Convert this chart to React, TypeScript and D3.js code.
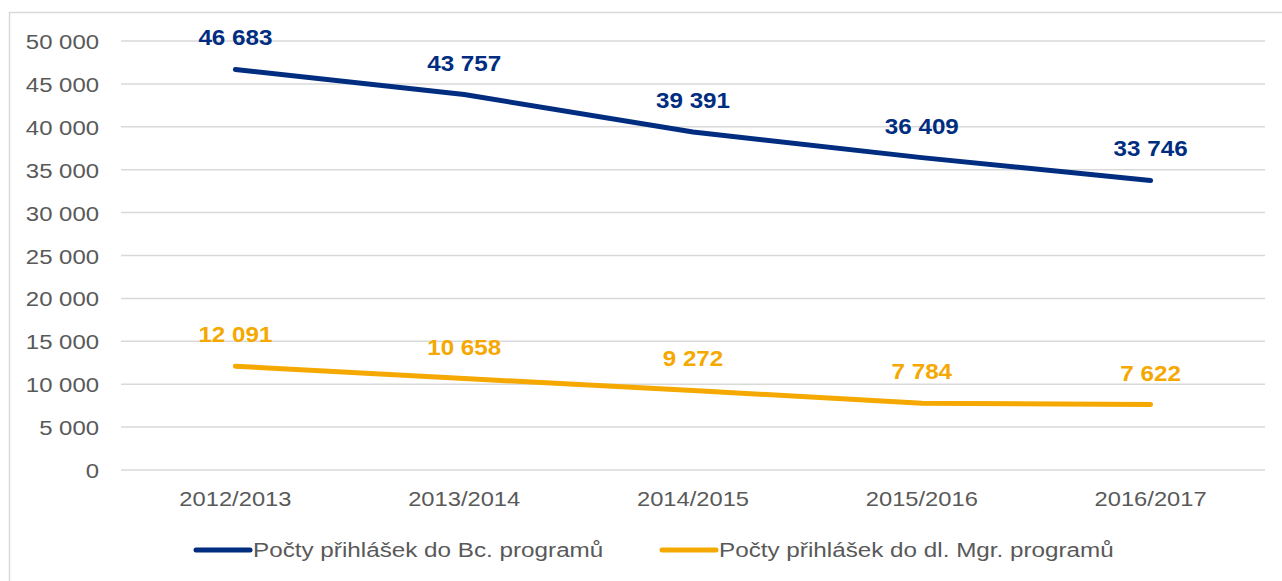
import * as d3 from "d3";
import { useRef, useEffect } from "react";

const years = ["2012/2013", "2013/2014", "2014/2015", "2015/2016", "2016/2017"];
const bcValues = [46683, 43757, 39391, 36409, 33746];
const mgrValues = [12091, 10658, 9272, 7784, 7622];
const yTicks = [0, 5000, 10000, 15000, 20000, 25000, 30000, 35000, 40000, 45000, 50000];
const seriesNames = ["Počty přihlášek do Bc. programů", "Počty přihlášek do dl. Mgr. programů"];
const seriesColors = ["#002d80", "#f5a800"];

const fmt = (v: number) => d3.format(",")(v).replace(/,/g, " ");

export default function App() {
  const svgRef = useRef<SVGSVGElement>(null);
  const width = 1282;
  const height = 581;

  useEffect(() => {
    const svg = d3.select(svgRef.current);
    svg.selectAll("*").remove();

    const font = "'Liberation Sans', Arial, sans-serif";
    const stretch = 1.1; // text in the original is a bit wide
    const left = 121, right = 1265, top = 41, bottom = 470;
    const place = (px: number, py: number, s = stretch) => `translate(${px},${py}) scale(${s},1)`;

    // outer frame
    svg.append("rect")
      .attr("x", 9.5).attr("y", 12.5)
      .attr("width", 1300).attr("height", 600)
      .attr("fill", "white")
      .attr("stroke", "#d9d9d9")
      .attr("stroke-width", 1.5);

    const x = d3.scaleBand().domain(years).range([left, right]);
    const y = d3.scaleLinear().domain([0, 50000]).range([bottom, top]);
    const cx = (i: number) => x(years[i])! + x.bandwidth() / 2;

    // gridlines
    svg.append("g").selectAll("line")
      .data(yTicks)
      .join("line")
      .attr("x1", left).attr("x2", right)
      .attr("y1", d => y(d)).attr("y2", d => y(d))
      .attr("stroke", "#d9d9d9")
      .attr("stroke-width", 1.5);

    // y labels
    svg.append("g").selectAll("text")
      .data(yTicks)
      .join("text")
      .attr("transform", d => place(99, y(d) + 8, 1.14))
      .attr("text-anchor", "end")
      .style("font-family", font)
      .style("font-size", "21px")
      .attr("fill", "#595959")
      .text(d => fmt(d));

    // x labels
    svg.append("g").selectAll("text")
      .data(years)
      .join("text")
      .attr("transform", (_, i) => place(cx(i), 506, 1.13))
      .attr("text-anchor", "middle")
      .style("font-family", font)
      .style("font-size", "21px")
      .attr("fill", "#595959")
      .text(d => d);

    const line = d3.line<number>()
      .x((_, i) => cx(i))
      .y(d => y(d));

    [bcValues, mgrValues].forEach((vals, si) => {
      svg.append("path")
        .datum(vals)
        .attr("d", line)
        .attr("fill", "none")
        .attr("stroke", seriesColors[si])
        .attr("stroke-width", 5)
        .attr("stroke-linecap", "round")
        .attr("stroke-linejoin", "round");

      svg.append("g").selectAll("text")
        .data(vals)
        .join("text")
        .attr("transform", (d, i) => place(cx(i), y(d) - 24))
        .attr("text-anchor", "middle")
        .style("font-family", font)
        .style("font-size", "22px")
        .style("font-weight", "bold")
        .attr("fill", seriesColors[si])
        .text(d => fmt(d));
    });

    // legend
    const legendX = [196, 662];
    seriesNames.forEach((name, i) => {
      svg.append("line")
        .attr("x1", legendX[i]).attr("x2", legendX[i] + 54)
        .attr("y1", 550).attr("y2", 550)
        .attr("stroke", seriesColors[i])
        .attr("stroke-width", 5)
        .attr("stroke-linecap", "round");
      svg.append("text")
        .attr("transform", place(legendX[i] + 57, 557, 1.155))
        .style("font-family", font)
        .style("font-size", "21px")
        .attr("fill", "#595959")
        .text(name);
    });
  }, []);

  return <svg ref={svgRef} width={width} height={height} style={{ position: "absolute", left: 0, top: 0 }} />;
}
